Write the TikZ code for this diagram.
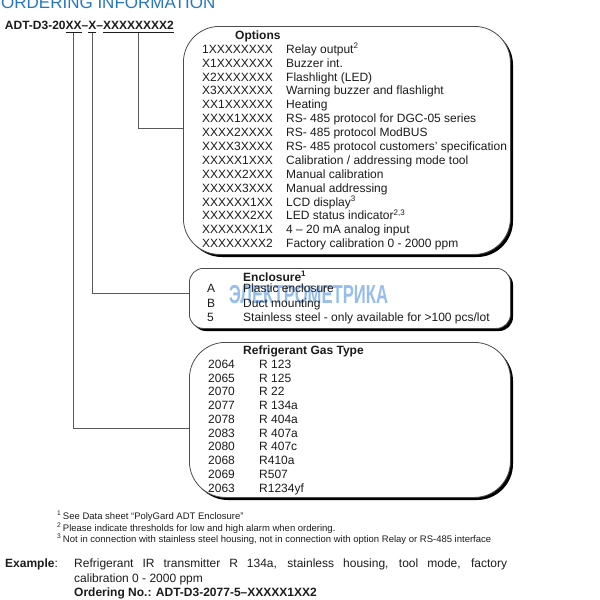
\documentclass[tikz,border=0pt]{standalone}
\usepackage{fontspec}
\setmainfont{Liberation Sans}
\usepackage{graphicx}
\usepackage{tikz}
\usetikzlibrary{positioning, shadows, calc}
\definecolor{titleblue}{RGB}{38,118,192}
\definecolor{markblue}{RGB}{150,190,236}
\definecolor{ink}{RGB}{28,28,28}
\newcommand{\pxsize}[1]{\fontsize{#1}{#1}\selectfont}

\begin{document}
\begin{tikzpicture}[x=1pt, y=-1pt,
    codepart/.style={inner sep=0pt, outer sep=0pt, font=\pxsize{12}\bfseries, text=ink, text height=8.6pt, text depth=3.5pt},
    panel/.style={draw=black!70, line width=0.8pt, fill=white, inner sep=0pt, anchor=north west,
        general shadow={fill=black, shadow xshift=2.6pt, shadow yshift=-2.6pt}},
    entry/.style={inner sep=0pt, anchor=base west, font=\pxsize{12}, text=ink},
    head/.style={entry, font=\pxsize{12}\bfseries},
    note/.style={inner sep=0pt, anchor=base west, font=\pxsize{9.5}, text=ink},
    uline/.style={draw=ink, line width=0.8pt},
    link/.style={draw=black!65, line width=0.7pt}
]
\useasboundingbox (0,0) rectangle (600,600);

\def\yOpts{53.3}
\def\yGas{368.3}

% Heading (cut at the top edge)
\node[inner sep=0pt, anchor=base west, font=\pxsize{17}, text=titleblue] (title) at (1,8) {ORDERING INFORMATION};

% Order code
\node[codepart, anchor=base west] (pre) at (5,29) {ADT-D3-20};
\node[codepart, right=0pt of pre] (selGas) {XX};
\node[codepart, right=0pt of selGas] (dashA) {–};
\node[codepart, right=0pt of dashA] (selEncl) {X};
\node[codepart, right=0pt of selEncl] (dashB) {–};
\node[codepart, right=0pt of dashB] (selOpts) {XXXXXXXX2};
\foreach \s in {selGas, selEncl, selOpts} {
    \draw[uline] (\s.south west) -- (\s.south east);
}

% Panels
\node[panel, rounded corners=36pt, minimum width=327pt, minimum height=228pt] (opts) at (183,26) {};
\node[panel, rounded corners=14pt, minimum width=321pt, minimum height=60pt] (encl) at (189,268) {};
\node[panel, rounded corners=36pt, minimum width=321pt, minimum height=155pt] (gas) at (189,342) {};

% Leader lines
\coordinate (optsIn) at (183,128);
\coordinate (enclIn) at (189,293);
\coordinate (gasIn)  at (189,428);
\draw[link] (selOpts.south) |- (optsIn);
\draw[link] (selEncl.south) |- (enclIn);
\draw[link] (selGas.south)  |- (gasIn);

% Watermark
\node[inner sep=0pt, anchor=base west, font=\pxsize{26}\bfseries, text=markblue] (stamp) at (229,303) {\scalebox{0.64}[1]{ЭЛЕКТРОМЕТРИКА}};

% --- Options ---
\node[head] (optsHead) at (235,39) {Options};
\foreach \code/\desc [count=\i from 0] in {
    1XXXXXXXX/{Relay output\textsuperscript{2}},
    X1XXXXXXX/{Buzzer int.},
    X2XXXXXXX/{Flashlight (LED)},
    X3XXXXXXX/{Warning buzzer and flashlight},
    XX1XXXXXX/{Heating},
    XXXX1XXXX/{RS- 485 protocol for DGC-05 series},
    XXXX2XXXX/{RS- 485 protocol ModBUS},
    XXXX3XXXX/{RS- 485 protocol customers' specification},
    XXXXX1XXX/{Calibration / addressing mode tool},
    XXXXX2XXX/{Manual calibration},
    XXXXX3XXX/{Manual addressing},
    XXXXXX1XX/{LCD display\textsuperscript{3}},
    XXXXXX2XX/{LED status indicator\textsuperscript{2,3}},
    XXXXXXX1X/{4 – 20 mA analog input},
    XXXXXXXX2/{Factory calibration 0 - 2000 ppm}} {
    \node[entry] (optCode\i) at (202, \yOpts+13.886*\i) {\code};
    \node[entry] (optText\i) at (286, \yOpts+13.886*\i) {\desc};
}

% --- Enclosure ---
\node[head] (enclHead) at (243,281) {Enclosure\textsuperscript{1}};
\foreach \code/\desc/\y in {
    A/{Plastic enclosure}/292.8,
    B/{Duct mounting}/307.3,
    5/{Stainless steel - only available for >100 pcs/lot}/321.7} {
    \node[entry] (encCode\code) at (207, \y) {\code};
    \node[entry] (encText\code) at (243, \y) {\desc};
}

% --- Refrigerant gas ---
\node[head] (gasHead) at (243,354) {Refrigerant Gas Type};
\foreach \code/\desc [count=\i from 0] in {
    2064/R 123, 2065/R 125, 2070/R 22, 2077/R 134a, 2078/R 404a,
    2083/R 407a, 2080/R 407c, 2068/R410a, 2069/R507, 2063/R1234yf} {
    \node[entry] (gasCode\i) at (208, \yGas+13.78*\i) {\code};
    \node[entry] (gasText\i) at (259, \yGas+13.78*\i) {\desc};
}

% Footnotes
\foreach \n/\txt/\y in {
    1/{See Data sheet “PolyGard ADT Enclosure”}/519,
    2/{Please indicate thresholds for low and high alarm when ordering.}/531.2,
    3/{Not in connection with stainless steel housing, not in connection with option Relay or RS-485 interface}/542.7} {
    \node[note] (foot\n) at (57, \y) {\textsuperscript{\n}\,\txt};
}

% Example
\node[entry] (exLabel) at (5,567) {\textbf{Example}:};
\node[entry, text width=433pt, align=justify, font=\fontsize{12}{15}\selectfont] (exText) at (74,567)
    {Refrigerant IR transmitter R 134a, stainless housing, tool mode, factory\linebreak calibration 0 - 2000 ppm};
\node[head] (exCode) at (74,596) {Ordering No.: ADT-D3-2077-5–XXXXX1XX2};

\end{tikzpicture}
\end{document}
